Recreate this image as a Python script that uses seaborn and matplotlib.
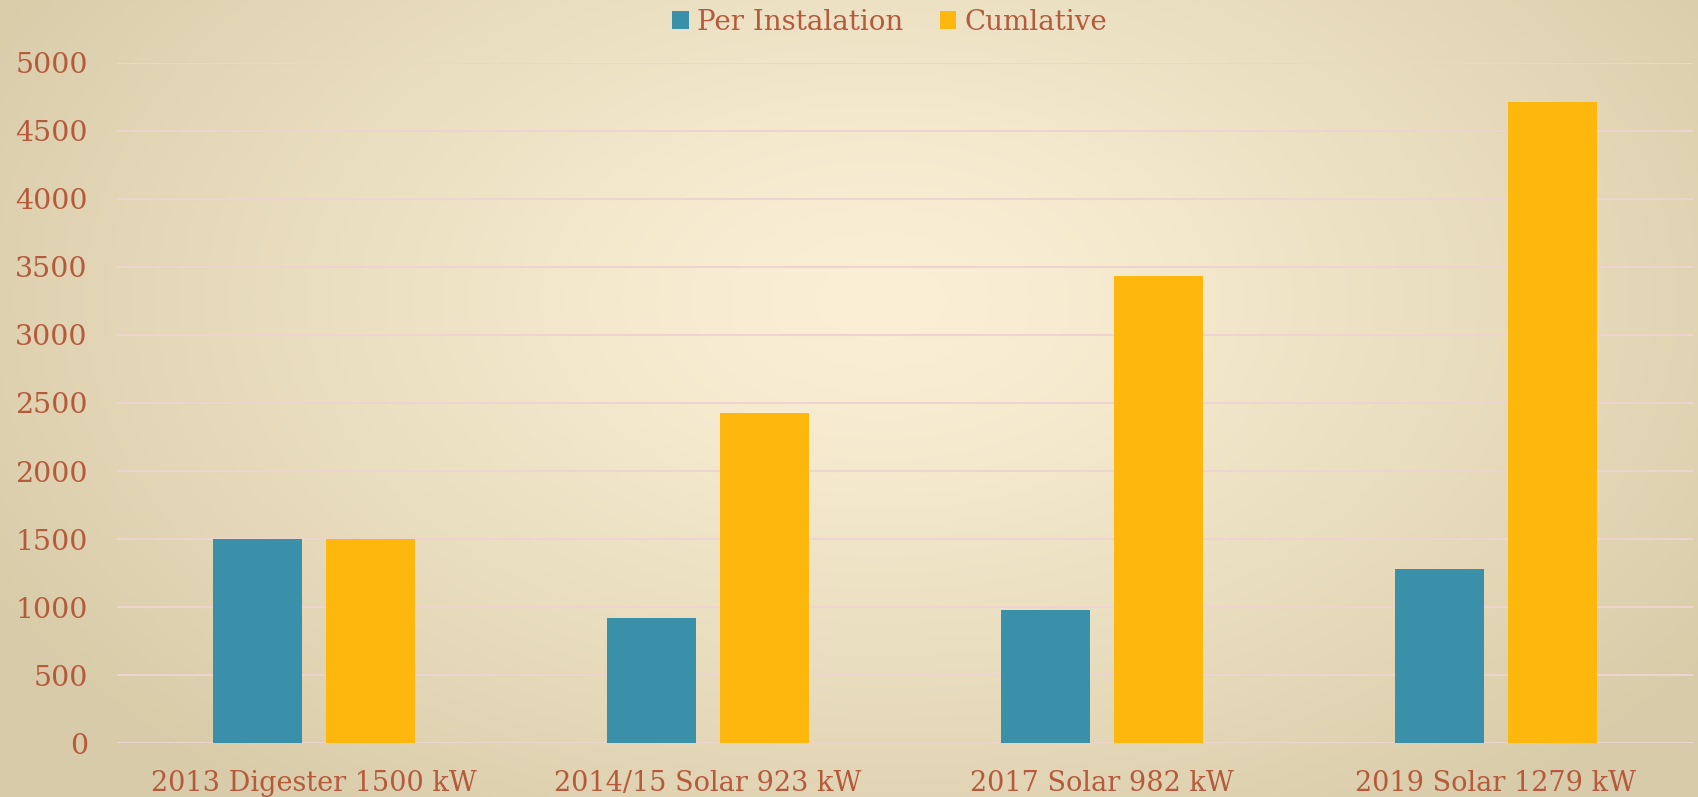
import numpy as np
import pandas as pd
import matplotlib
matplotlib.use("Agg")
import matplotlib.pyplot as plt
from matplotlib.colors import to_rgb
import seaborn as sns

categories = ["2013 Digester 1500 kW", "2014/15 Solar 923 kW", "2017 Solar 982 kW", "2019 Solar 1279 kW"]
per_installation = [1500, 923, 982, 1279]
cumulative = [1500, 2423, 3435, 4714]
series_names = ["Per Instalation", "Cumlative"]
y_ticks = [0, 500, 1000, 1500, 2000, 2500, 3000, 3500, 4000, 4500, 5000]

TEXT = "#B65A3D"
BLUE = "#3990A8"
ORANGE = "#FEB70C"
GRID = "#EDD5CE"

df = pd.DataFrame({
    "cat": categories * 2,
    "val": per_installation + cumulative,
    "series": [series_names[0]] * len(categories) + [series_names[1]] * len(categories),
})

sns.set_theme(style="white")
plt.rcParams["font.family"] = ["DejaVu Serif"]

W, H = 1698, 797
fig = plt.figure(figsize=(W / 100, H / 100), dpi=100)

# radial gradient background
bg = fig.add_axes([0, 0, 1, 1], zorder=-10)
yy, xx = np.mgrid[0:H, 0:W]
cx, cy = 880, 300
t = np.sqrt(((xx - cx) / 1000.0) ** 2 + ((yy - cy) / 620.0) ** 2)
t = np.clip(t, 0, 1) ** 1.3
c0 = np.array(to_rgb("#FBEFD6"))
c1 = np.array(to_rgb("#D8CCA9"))
img = c0[None, None, :] * (1 - t[..., None]) + c1[None, None, :] * t[..., None]
bg.imshow(img, aspect="auto", extent=[0, 1, 0, 1], origin="upper")
bg.set_axis_off()

left, right = 117 / W, 1693 / W
bottom = 1 - 743.3 / H
top = 1 - 62.7 / H
ax = fig.add_axes([left, bottom, right - left, top - bottom])
ax.set_facecolor("none")

sns.barplot(data=df, x="cat", y="val", hue="series", order=categories,
            hue_order=series_names, palette={series_names[0]: BLUE, series_names[1]: ORANGE},
            width=0.574, gap=0.21, saturation=1, linewidth=0, ax=ax, legend=True)

ax.set_ylim(0, 5000)
ax.set_xlim(-0.5, len(categories) - 0.5)
ax.set_yticks(y_ticks)
ax.set_yticklabels([str(v) for v in y_ticks])
ax.yaxis.grid(True, color=GRID, linewidth=1.5)
ax.xaxis.grid(False)
ax.set_axisbelow(True)
for s in ax.spines.values():
    s.set_visible(False)
ax.set_xlabel("")
ax.set_ylabel("")
ax.tick_params(axis="y", length=0, pad=21, labelsize=20.5, labelcolor=TEXT)
ax.tick_params(axis="x", length=0, pad=19, labelsize=19.5, labelcolor=TEXT)

handles, labels = ax.get_legend_handles_labels()
ax.get_legend().remove()
leg = fig.legend(handles, labels, loc="center", bbox_to_anchor=(890 / W, 1 - 22 / H),
                 ncol=2, frameon=False, fontsize=20, handlelength=0.6, handleheight=0.6,
                 handletextpad=0.3, columnspacing=1.3, borderaxespad=0)
for txt in leg.get_texts():
    txt.set_color(TEXT)

fig.savefig("out.png", dpi=100)
